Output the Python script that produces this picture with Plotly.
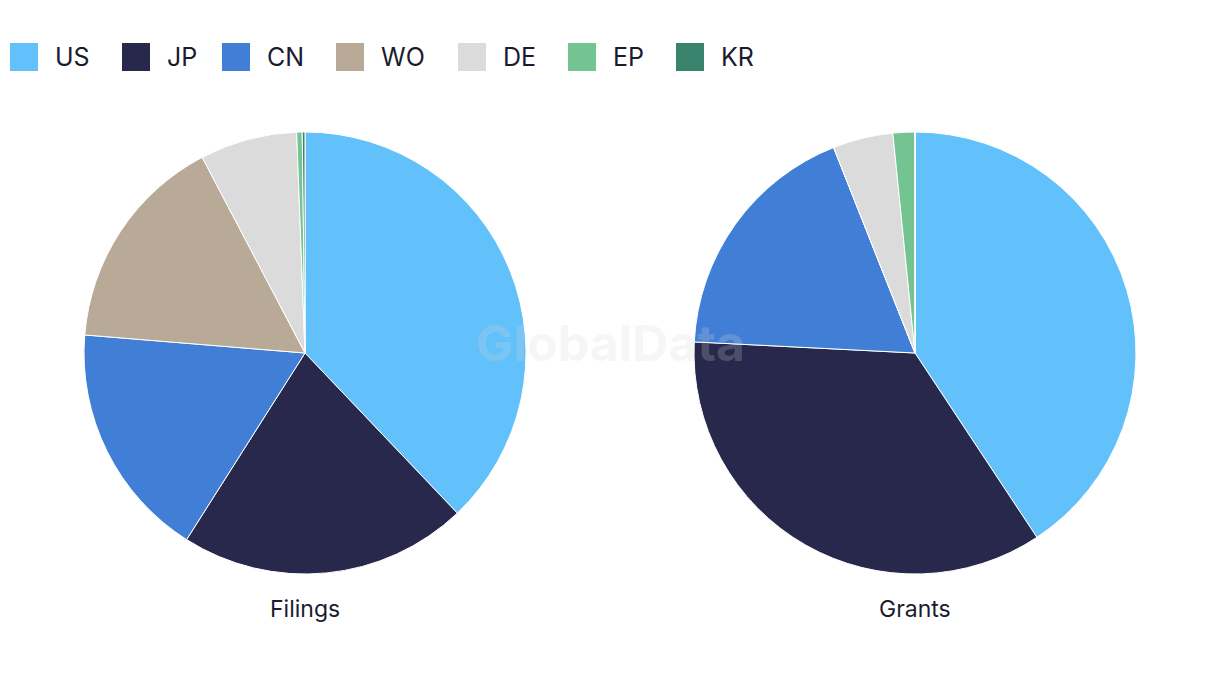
import plotly.graph_objects as go

categories = ["US", "JP", "CN", "WO", "DE", "EP", "KR"]
colors = ["#62c1fa", "#27284b", "#417fd6", "#b8aa97", "#dbdbdb", "#74c492", "#3a836c"]
filings = [37.9, 21.1, 17.3, 16.0, 7.1, 0.4, 0.2]
grants = [40.7, 35.1, 18.2, 0.0, 4.4, 1.6, 0.0]
pie_titles = ["Filings", "Grants"]

W, H = 1220, 686
OFF = 8  # page body margin offset
FONT = "Inter, Noto Sans, sans-serif"
TXT = "#1a1b30"

fig = go.Figure()

def px_x(v):
    return (v - OFF) / W

def px_y(v):
    return 1 - (v - OFF) / H

r = 221
cy = 353
for vals, cx in [(filings, 305), (grants, 915)]:
    fig.add_trace(go.Pie(
        labels=categories, values=vals, sort=False, direction="clockwise",
        rotation=0, textinfo="none", hoverinfo="label+value+percent",
        marker=dict(colors=colors, line=dict(color="white", width=1)),
        domain=dict(x=[px_x(cx - r), px_x(cx + r)], y=[px_y(cy + r), px_y(cy - r)]),
        showlegend=False,
    ))

shapes = []
annotations = []
sq_x = [10, 122, 222, 336, 458, 568, 676]
for i, (cat, col) in enumerate(zip(categories, colors)):
    x0 = sq_x[i]
    shapes.append(dict(type="rect", xref="paper", yref="paper",
                       x0=px_x(x0), x1=px_x(x0 + 28), y0=px_y(71), y1=px_y(43),
                       fillcolor=col, line=dict(width=0)))
    annotations.append(dict(text=cat, xref="paper", yref="paper", x=px_x(x0 + 43), y=px_y(57),
                            xanchor="left", yanchor="middle", showarrow=False,
                            font=dict(family=FONT, size=25, color=TXT)))

for t, cx in zip(pie_titles, [305, 915]):
    annotations.append(dict(text=t, xref="paper", yref="paper", x=px_x(cx), y=px_y(609),
                            xanchor="center", yanchor="middle", showarrow=False,
                            font=dict(family=FONT, size=23, color=TXT)))

annotations.append(dict(text="<b>GlobalData</b>", xref="paper", yref="paper", x=px_x(610), y=px_y(343),
                        xanchor="center", yanchor="middle", showarrow=False,
                        font=dict(family=FONT, size=50, color="rgba(215,215,215,0.22)")))

fig.update_layout(
    width=W, height=H, margin=dict(l=0, r=0, t=0, b=0),
    paper_bgcolor="white", plot_bgcolor="white",
    shapes=shapes, annotations=annotations,
    font=dict(family=FONT, color=TXT),
)

fig.write_html("out.html")
